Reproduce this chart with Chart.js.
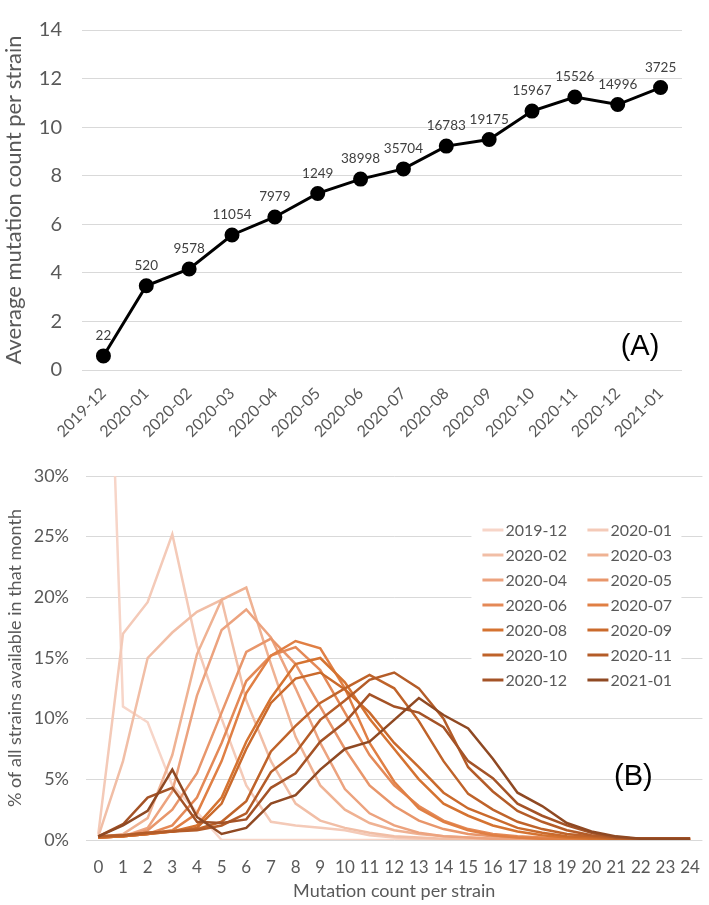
<!DOCTYPE html>
<html lang="en">
<head>
<meta charset="UTF-8">
<title>Mutation count per strain by month</title>
<script src="https://cdn.jsdelivr.net/npm/chart.js@4.4.1/dist/chart.umd.min.js"></script>
<style>
    body {
        margin: 0;
        background: #fff;
        width: 709px;
        height: 905px;
        overflow: hidden;
        font-family: Lato, sans-serif;
    }
    .panel {
        position: absolute;
        left: 0;
        width: 709px;
    }
    #panelA { top: 0; height: 450px; }
    #panelB { top: 450px; height: 455px; }
</style>
</head>
<body>
<div class="panel" id="panelA"><canvas id="chartA"></canvas></div>
<div class="panel" id="panelB"><canvas id="chartB"></canvas></div>

<script>
    // ---- panel A data ----
    const months = ['2019-12', '2020-01', '2020-02', '2020-03', '2020-04', '2020-05', '2020-06',
                    '2020-07', '2020-08', '2020-09', '2020-10', '2020-11', '2020-12', '2021-01'];
    const avgMutations = [0.58, 3.47, 4.16, 5.56, 6.3, 7.27, 7.86, 8.28, 9.22, 9.49, 10.66, 11.24, 10.93, 11.63];
    const strainCounts = [22, 520, 9578, 11054, 7979, 1249, 38998, 35704, 16783, 19175, 15967, 15526, 14996, 3725];
    const yTicksA = [0, 2, 4, 6, 8, 10, 12, 14];

    // ---- panel B data (% of strains, mutation count 0..24) ----
    const mutationCounts = ['0', '1', '2', '3', '4', '5', '6', '7', '8', '9', '10', '11', '12',
                            '13', '14', '15', '16', '17', '18', '19', '20', '21', '22', '23', '24'];
    const pct1912 = [70, 11, 9.7, 4.5, 2.3, 0, 0, 0, 0, 0, 0, 0, 0, 0, 0, 0, 0, 0, 0, 0, 0, 0, 0, 0, 0];
    const pct2001 = [0.5, 17, 19.6, 25.2, 16, 10, 4.5, 1.5, 1.2, 1.0, 0.8, 0.4, 0.2, 0.1, 0, 0, 0, 0, 0, 0, 0, 0, 0, 0, 0];
    const pct2002 = [0.3, 6.5, 15, 17.1, 18.8, 19.8, 11.5, 6.5, 3, 1.6, 1.0, 0.6, 0.3, 0.2, 0.1, 0, 0, 0, 0, 0, 0, 0, 0, 0, 0];
    const pct2003 = [0.2, 0.5, 1.8, 7, 15.3, 19.8, 20.8, 14.5, 8.5, 4.5, 2.5, 1.4, 0.8, 0.5, 0.3, 0.2, 0.1, 0, 0, 0, 0, 0, 0, 0, 0];
    const pct2004 = [0.2, 0.3, 1, 4, 11.9, 17.3, 19.0, 16.7, 12.5, 8, 4.2, 2.2, 1.2, 0.6, 0.3, 0.2, 0.1, 0.1, 0, 0, 0, 0, 0, 0, 0];
    const pct2005 = [0.2, 0.3, 0.8, 2.5, 5.5, 10.5, 15.5, 16.6, 14.5, 11, 7.5, 4.5, 2.8, 1.6, 0.9, 0.5, 0.3, 0.2, 0.1, 0.1, 0, 0, 0, 0, 0];
    const pct2006 = [0.2, 0.3, 0.5, 1.2, 3.5, 8, 13.1, 15.2, 15.9, 14.0, 10.5, 7, 4.5, 2.8, 1.6, 0.9, 0.5, 0.3, 0.2, 0.1, 0.1, 0.1, 0.1, 0.1, 0.1];
    const pct2007 = [0.2, 0.3, 0.5, 0.8, 2.2, 6.5, 12.1, 15.2, 16.4, 15.8, 12.5, 8, 4.8, 2.6, 1.5, 0.8, 0.4, 0.2, 0.1, 0.1, 0.1, 0.1, 0.1, 0.1, 0.1];
    const pct2008 = [0.2, 0.3, 0.5, 0.7, 1.2, 3.5, 8.1, 11.7, 14.5, 15.0, 13, 10, 7.5, 5, 3.0, 2.0, 1.2, 0.7, 0.4, 0.2, 0.1, 0.1, 0.1, 0.1, 0.1];
    const pct2009 = [0.2, 0.3, 0.5, 0.7, 1, 3, 7.5, 11.3, 13.3, 13.8, 12.4, 10.5, 8, 6, 3.9, 2.6, 1.8, 1.0, 0.6, 0.3, 0.2, 0.1, 0.1, 0.1, 0.1];
    const pct2010 = [0.3, 0.4, 0.6, 0.7, 0.9, 1.5, 3.2, 7.3, 9.4, 11.3, 12.5, 13.6, 12.5, 9.8, 6.5, 3.8, 2.5, 1.5, 0.9, 0.5, 0.3, 0.1, 0.1, 0.1, 0.1];
    const pct2011 = [0.3, 0.4, 0.6, 0.7, 0.8, 1.2, 2.2, 5.6, 7.2, 9.9, 11.5, 13.2, 13.8, 12.5, 10.0, 6.0, 4.0, 2.4, 1.5, 0.8, 0.4, 0.2, 0.1, 0.1, 0.1];
    const pct2012 = [0.3, 1.3, 3.5, 4.3, 1.5, 1.4, 1.7, 4.3, 5.5, 8.1, 9.7, 12.0, 11.0, 10.5, 9.3, 6.5, 5.1, 3.0, 2.0, 1.2, 0.6, 0.2, 0.1, 0.1, 0.1];
    const pct2101 = [0.3, 1.2, 2.4, 5.8, 1.9, 0.5, 1.0, 3.0, 3.7, 5.8, 7.5, 8.1, 9.9, 11.7, 10.3, 9.2, 6.7, 3.9, 2.8, 1.4, 0.7, 0.3, 0.1, 0.1, 0.1];
    const yTicksB = [0, 5, 10, 15, 20, 25, 30];

    const monthSeries = [pct1912, pct2001, pct2002, pct2003, pct2004, pct2005, pct2006,
                         pct2007, pct2008, pct2009, pct2010, pct2011, pct2012, pct2101];
    const monthColors = ['#f7d5c8', '#f4cab8', '#f1bea6', '#efb293', '#eca37f', '#e8966b', '#e48957',
                         '#e07f44', '#d57331', '#ca6a2c', '#bf632a', '#b45c28', '#a45327', '#8f4923'];

    const fontFamily = 'Lato, sans-serif';
    const greyText = '#595959';
    const gridGrey = '#d9d9d9';

    // labels above the points of panel A
    const pointLabels = {
        id: 'pointLabels',
        afterDatasetsDraw(chart) {
            const ctx = chart.ctx;
            const meta = chart.getDatasetMeta(0);
            ctx.save();
            ctx.font = '13.5px ' + fontFamily;
            ctx.fillStyle = '#404040';
            ctx.textAlign = 'center';
            ctx.textBaseline = 'middle';
            meta.data.forEach((pt, i) => ctx.fillText(String(strainCounts[i]), pt.x, pt.y - 20));
            ctx.restore();
        }
    };

    // "(A)" / "(B)" tags, placed from the bottom right of the plot area
    function panelTag(text, dx, dy) {
        return {
            id: 'panelTag',
            afterDraw(chart) {
                const a = chart.chartArea;
                const ctx = chart.ctx;
                ctx.save();
                ctx.font = '29px "Liberation Sans", Arial, sans-serif';
                ctx.fillStyle = '#000';
                ctx.textAlign = 'center';
                ctx.textBaseline = 'middle';
                ctx.fillText(text, a.right - dx, a.bottom - dy);
                ctx.restore();
            }
        };
    }

    // two-column legend inside panel B
    const boxLegend = {
        id: 'boxLegend',
        afterDraw(chart) {
            const ctx = chart.ctx;
            const a = chart.chartArea;
            const left = a.right - 231, top = a.top + 40;
            ctx.save();
            ctx.fillStyle = '#fff';
            ctx.fillRect(left, top, 210, 178);
            ctx.font = '16px ' + fontFamily;
            ctx.textBaseline = 'middle';
            ctx.textAlign = 'left';
            ctx.lineWidth = 3;
            chart.data.datasets.forEach((ds, i) => {
                const col = i % 2, row = Math.floor(i / 2);
                const x = left + 11 + col * 105;
                const y = top + 14 + row * 25;
                ctx.strokeStyle = ds.borderColor;
                ctx.beginPath();
                ctx.moveTo(x, y);
                ctx.lineTo(x + 21, y);
                ctx.stroke();
                ctx.fillStyle = greyText;
                ctx.fillText(ds.label, x + 23, y + 1);
            });
            ctx.restore();
        }
    };

    new Chart(document.getElementById('chartA'), {
        type: 'line',
        data: {
            labels: months,
            datasets: [{
                label: 'Average mutation count',
                data: avgMutations,
                borderColor: '#000',
                backgroundColor: '#000',
                borderWidth: 3,
                pointRadius: 6,
                pointHoverRadius: 6,
                tension: 0
            }]
        },
        options: {
            responsive: true,
            maintainAspectRatio: false,
            animation: false,
            layout: { padding: { top: 10, right: 27, left: 0, bottom: 0 } },
            plugins: { legend: { display: false }, tooltip: { enabled: false } },
            scales: {
                x: {
                    offset: true,
                    grid: { display: false },
                    border: { display: false },
                    ticks: {
                        color: greyText,
                        font: { family: fontFamily, size: 16 },
                        minRotation: 45,
                        maxRotation: 45,
                        padding: 6
                    },
                    afterFit(s) { s.height = 80; }
                },
                y: {
                    min: 0,
                    max: 14,
                    afterBuildTicks(s) { s.ticks = yTicksA.map(v => ({ value: v })); },
                    grid: { color: gridGrey, lineWidth: 1, drawTicks: false },
                    border: { display: false },
                    ticks: {
                        color: greyText,
                        font: { family: fontFamily, size: 20, lineHeight: 1 },
                        padding: 20
                    },
                    title: {
                        display: true,
                        text: 'Average mutation count per strain',
                        color: greyText,
                        font: { family: fontFamily, size: 22 },
                        padding: { top: 1, bottom: 0 }
                    },
                    afterFit(s) { s.width = 82; }
                }
            }
        },
        plugins: [pointLabels, panelTag('(A)', 42, 23)]
    });

    new Chart(document.getElementById('chartB'), {
        type: 'line',
        data: {
            labels: mutationCounts,
            datasets: months.map((m, i) => ({
                label: m,
                data: monthSeries[i],
                borderColor: monthColors[i],
                backgroundColor: monthColors[i],
                borderWidth: 2.5,
                pointRadius: 0,
                tension: 0,
                order: months.length - i
            }))
        },
        options: {
            responsive: true,
            maintainAspectRatio: false,
            animation: false,
            layout: { padding: { top: 18, right: 2, left: 0, bottom: 0 } },
            plugins: { legend: { display: false }, tooltip: { enabled: false } },
            scales: {
                x: {
                    offset: true,
                    grid: { display: false },
                    border: { display: false },
                    ticks: {
                        color: greyText,
                        font: { family: fontFamily, size: 17 },
                        maxRotation: 0,
                        autoSkip: false,
                        padding: 9
                    },
                    title: {
                        display: true,
                        text: 'Mutation count per strain',
                        color: greyText,
                        font: { family: fontFamily, size: 18 },
                        padding: { top: 0, bottom: 3 }
                    },
                    afterFit(s) { s.height = 65; }
                },
                y: {
                    min: 0,
                    max: 30,
                    afterBuildTicks(s) { s.ticks = yTicksB.map(v => ({ value: v })); },
                    grid: { color: gridGrey, lineWidth: 1, drawTicks: false },
                    border: { display: false },
                    ticks: {
                        color: greyText,
                        font: { family: fontFamily, size: 18, lineHeight: 1 },
                        padding: 17,
                        callback: v => v + '%'
                    },
                    title: {
                        display: true,
                        text: '% of all strains available in that month',
                        color: greyText,
                        font: { family: fontFamily, size: 18 },
                        padding: { top: 4, bottom: 0 }
                    },
                    afterFit(s) { s.width = 86; }
                }
            }
        },
        plugins: [boxLegend, panelTag('(B)', 69, 63)]
    });
</script>
</body>
</html>
